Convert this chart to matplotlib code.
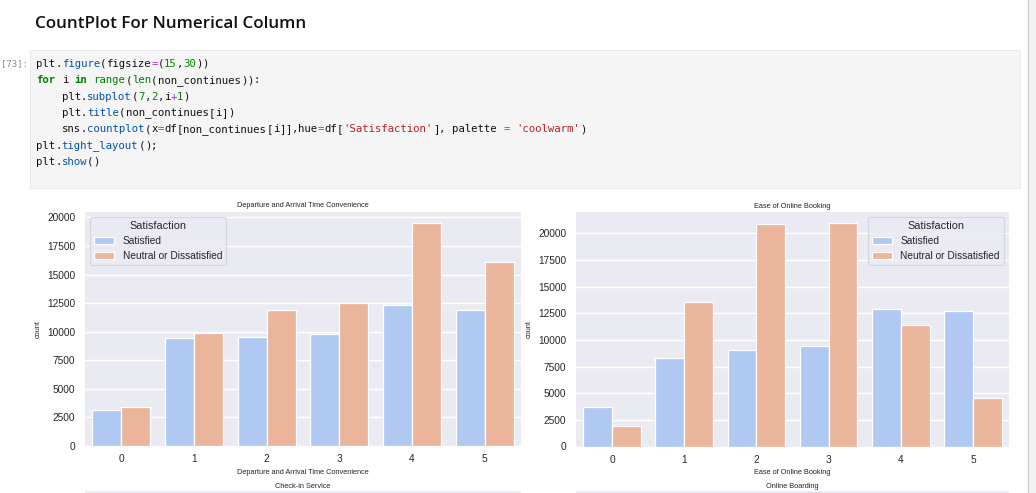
import re
import numpy as np
import matplotlib
matplotlib.use("Agg")
import matplotlib.pyplot as plt
from matplotlib.patches import Rectangle
from matplotlib.ticker import MultipleLocator, FormatStrFormatter

# ---------------- data ----------------
ratings = [0, 1, 2, 3, 4, 5]
hue_labels = ["Satisfied", "Neutral or Dissatisfied"]

dep_title = "Departure and Arrival Time Convenience"
dep_satisfied = [3150, 9490, 9520, 9840, 12350, 11890]
dep_neutral = [3390, 9900, 11910, 12550, 19540, 16120]

book_title = "Ease of Online Booking"
book_satisfied = [3750, 8280, 9060, 9380, 12910, 12750]
book_neutral = [1940, 13530, 20880, 20940, 11410, 4590]

next_titles = ["Check-in Service", "Online Boarding"]

heading = "CountPlot For Numerical Column"
prompt = "[73]:"
code_lines = [
    "plt.figure(figsize=(15,30))",
    "for i in range(len(non_continues)):",
    "    plt.subplot(7,2,i+1)",
    "    plt.title(non_continues[i])",
    "    sns.countplot(x=df[non_continues[i]],hue=df['Satisfaction'], palette = 'coolwarm')",
    "plt.tight_layout();",
    "plt.show()",
]

# ---------------- style ----------------
W, H = 1036, 493
C_SAT = "#b0c9f3"
C_NEU = "#ebb59c"
BG = "#eaeaf2"
TXT = "#262626"

plt.rcParams["font.family"] = ["Liberation Sans", "DejaVu Sans"]

fig = plt.figure(figsize=(W / 100, H / 100), dpi=100)
fig.patch.set_facecolor("white")


def fx(px):
    return px / W


def fy(py):
    return 1 - py / H


# heading
t = fig.text(fx(35), fy(24), heading, family="Open Sans", weight="semibold",
             fontsize=12.5, color="#111111", va="center", ha="left")
fig.canvas.draw()
w = t.get_window_extent().width
t.set_fontsize(12.5 * 272 / w)

# code cell
fig.patches.append(Rectangle((fx(30), fy(188)), fx(1020) - fx(30), (188 - 50) / H,
                             transform=fig.transFigure, facecolor="#f5f5f5",
                             edgecolor="#e6e6e6", linewidth=0.6, zorder=0))
fig.text(fx(1), fy(64), prompt, family="DejaVu Sans Mono", fontsize=6.5,
         color="#8a8a8a", ha="left", va="center")

keywords = {"for", "in"}
builtins = {"range", "len"}
tok_re = re.compile(r"('[^']*'|[A-Za-z_][A-Za-z_0-9]*|\d+|\s+|.)")
char_w = 6.4
x0 = 36
for k, line in enumerate(code_lines):
    y = 64 + k * 16.33
    pos = 0
    prev = ""
    for tok in tok_re.findall(line):
        color, weight = "#111111", "normal"
        if tok.startswith("'"):
            color = "#ba2121"
        elif tok in keywords:
            color, weight = "#008000", "bold"
        elif tok in builtins:
            color = "#008000"
        elif tok.isdigit():
            color = "#008800"
        elif tok in ("=", "+"):
            color = "#aa22ff"
        elif re.match(r"[A-Za-z_]", tok) and prev == ".":
            color = "#0055aa"
        if not tok.isspace():
            fig.text(fx(x0 + pos * char_w), fy(y), tok, family="DejaVu Sans Mono",
                     fontsize=7.65, color=color, weight=weight, ha="left", va="center")
        pos += len(tok)
        if not tok.isspace():
            prev = tok

# scrollbar strip on the right
fig.patches.append(Rectangle((fx(1028), 0), fx(1036) - fx(1028), 1,
                             transform=fig.transFigure, facecolor="#f1f1f1",
                             edgecolor="none", zorder=0))
fig.lines.append(plt.Line2D([fx(1028), fx(1028)], [0, 1], transform=fig.transFigure,
                            color="#cfcfcf", linewidth=1.0))


def draw(rect, title, sat, neu, legend_loc):
    ax = fig.add_axes(rect)
    ax.set_facecolor(BG)
    x = np.arange(len(ratings))
    ax.bar(x - 0.2, sat, width=0.4, color=C_SAT, edgecolor="white", linewidth=0.9,
           label=hue_labels[0], zorder=2)
    ax.bar(x + 0.2, neu, width=0.4, color=C_NEU, edgecolor="white", linewidth=0.9,
           label=hue_labels[1], zorder=2)
    ax.set_xlim(-0.5, len(ratings) - 0.5)
    ax.set_xticks(x)
    ax.set_xticklabels([str(r) for r in ratings])
    ax.yaxis.set_major_locator(MultipleLocator(2500))
    ax.yaxis.set_major_formatter(FormatStrFormatter("%d"))
    ax.grid(axis="y", color="white", linewidth=1.0, zorder=0)
    ax.set_axisbelow(True)
    for s in ax.spines.values():
        s.set_visible(False)
    ax.tick_params(axis="both", length=0, labelsize=7.3, labelcolor=TXT)
    ax.tick_params(axis="y", pad=7)
    ax.tick_params(axis="x", pad=6)
    ax.set_title(title, fontsize=5.3, color=TXT, pad=3)
    ax.set_xlabel(title, fontsize=5.3, color=TXT, labelpad=3)
    ax.set_ylabel("count", fontsize=5.3, color=TXT, labelpad=4)
    leg = ax.legend(title="Satisfaction", loc=legend_loc, fontsize=7.3,
                    title_fontsize=7.8, frameon=True, framealpha=0.8,
                    facecolor=BG, edgecolor="#d0d0d8")
    leg.get_frame().set_linewidth(0.8)
    for tx in leg.get_texts():
        tx.set_color(TXT)
    leg.get_title().set_color(TXT)
    return ax


draw([fx(85), fy(446), (521 - 85) / W, (446 - 211.5) / H], dep_title,
     dep_satisfied, dep_neutral, "upper left")
draw([fx(576), fy(446.5), (1009 - 576) / W, (446.5 - 212) / H], book_title,
     book_satisfied, book_neutral, "upper right")

# next-row titles and the top of the next row of axes
fig.text(fx(303), fy(486), next_titles[0], fontsize=5.3, color=TXT, ha="center", va="center")
fig.text(fx(792), fy(486), next_titles[1], fontsize=5.3, color=TXT, ha="center", va="center")
for l, r in [(85, 521), (576, 1009)]:
    fig.patches.append(Rectangle((fx(l), 0), fx(r) - fx(l), 2.5 / H,
                                 transform=fig.transFigure, facecolor=BG,
                                 edgecolor="none", zorder=0))

fig.savefig("out.png", dpi=100)
